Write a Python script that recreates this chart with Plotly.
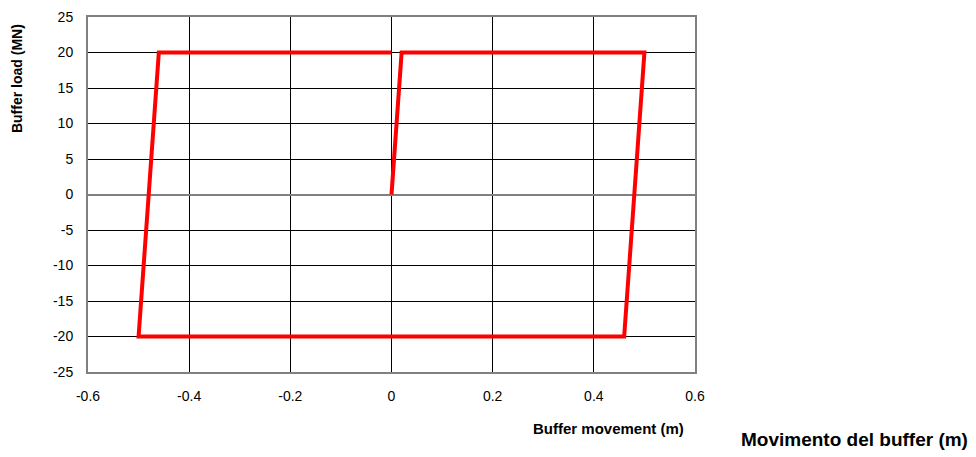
import plotly.graph_objects as go

movement_m = [0.0, 0.02, 0.5, 0.46, -0.5, -0.46, 0.0]
load_mn = [0, 20, 20, -20, -20, 20, 20]

x_ticks = [-0.6, -0.4, -0.2, 0, 0.2, 0.4, 0.6]
x_tick_text = ["-0.6", "-0.4", "-0.2", "0", "0.2", "0.4", "0.6"]
y_ticks = [-25, -20, -15, -10, -5, 0, 5, 10, 15, 20, 25]
y_tick_text = [str(v) for v in y_ticks]

fig = go.Figure()
fig.add_trace(go.Scatter(
    x=movement_m, y=load_mn, mode="lines",
    line=dict(color="#FF0000", width=4),
    showlegend=False, hoverinfo="skip",
))

fig.update_layout(
    width=968, height=449,
    margin=dict(l=80, r=281, t=9, b=85),
    paper_bgcolor="white", plot_bgcolor="white",
    font=dict(family="Liberation Sans, Arial, sans-serif", color="black", size=14),
    xaxis=dict(
        range=[-0.6, 0.6], tickvals=x_ticks, ticktext=x_tick_text,
        showgrid=True, gridcolor="black", gridwidth=1,
        zeroline=True, zerolinecolor="black", zerolinewidth=1,
        showline=True, linecolor="#808080", linewidth=2, mirror=True,
        ticks="", ticklabelstandoff=10, automargin=False,
        tickfont=dict(size=14),
    ),
    yaxis=dict(
        range=[-25, 25], tickvals=y_ticks, ticktext=y_tick_text,
        showgrid=True, gridcolor="black", gridwidth=1,
        zeroline=True, zerolinecolor="#808080", zerolinewidth=2,
        showline=True, linecolor="#808080", linewidth=2, mirror=True,
        ticks="", ticklabelstandoff=10, automargin=False,
        tickfont=dict(size=14),
    ),
    annotations=[
        dict(text="<b>Buffer load (MN)</b>", xref="paper", yref="paper",
             x=-0.117, y=0.828, textangle=-90, showarrow=False,
             font=dict(size=14), xanchor="center", yanchor="middle"),
        dict(text="<b>Buffer movement (m)</b>", xref="paper", yref="paper",
             x=0.857, y=-0.158, showarrow=False,
             font=dict(size=15), xanchor="center", yanchor="middle"),
        dict(text="<b>Movimento del buffer (m)</b>", xref="paper", yref="paper",
             x=1.263, y=-0.189, showarrow=False,
             font=dict(size=19), xanchor="center", yanchor="middle"),
    ],
)

fig.write_html("out.html")
